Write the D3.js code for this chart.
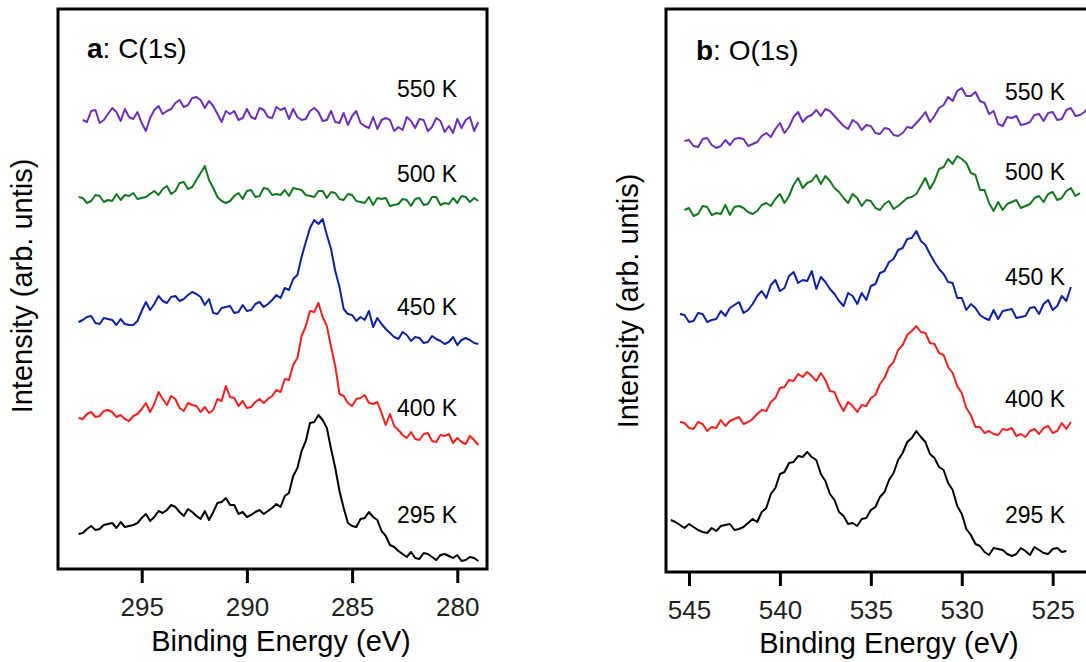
<!DOCTYPE html>
<html>
<head>
<meta charset="utf-8">
<script src="https://cdn.jsdelivr.net/npm/d3@7"></script>
<style>
  body { margin: 0; background: #fff; }
  svg { display: block; font-family: 'Liberation Sans', Arial, sans-serif; }
  .frame { fill: none; stroke: #000; stroke-width: 3; }
  .tick line { stroke: #000; stroke-width: 3; }
  .tick text { font-size: 26px; fill: #222; font-family: 'Liberation Sans', Arial, sans-serif; }
  .line-path { fill: none; stroke-width: 2; stroke-linejoin: round; }
  .label { font-size: 29px; fill: #000; }
  .temp { font-size: 23px; fill: #000; }
  .title { font-size: 28px; fill: #000; }
</style>
</head>
<body>
<script>
// series names / colours (top to bottom)
const temps = ['550 K', '500 K', '450 K', '400 K', '295 K']
const colors = ['#6b2fbd', '#12781f', '#0c22a6', '#f5201c', '#000000']

// ---- a: C(1s), sampled every 0.2 eV starting from the first energy
const cStep = 0.2
const cStarts = [297.8, 298.0, 298.0, 298.0, 298.0]
const cTicks = [295, 290, 285, 280]

const c550 = [
  449,447,458,459,446,449,455,461,457,448,
  460,452,450,457,446,438,451,459,463,455,
  458,460,466,469,462,464,471,472,469,461,
  468,463,455,447,458,455,458,449,451,460,
  452,450,461,459,452,451,462,459,461,450,
  460,452,449,450,458,461,457,448,449,458,
  447,446,456,444,453,458,446,443,441,452,
  440,449,451,449,438,442,439,452,448,441,
  450,449,438,442,451,448,437,443,436,450,
  441,449,452,438,447
]
const c500 = [
  372,371,366,368,374,373,367,369,368,375,
  369,374,373,376,370,371,372,375,378,374,
  380,383,375,378,386,387,380,382,389,396,
  403,389,381,372,368,366,368,373,376,370,
  378,379,372,373,381,380,374,375,374,379,
  373,381,380,379,374,373,372,378,378,371,
  377,376,370,369,375,374,368,367,366,372,
  364,371,370,371,363,364,365,370,369,363,
  370,371,364,365,372,372,364,366,365,371,
  366,373,372,367,371,368
]
const c450 = [
  247,249,252,253,246,245,251,250,249,244,
  250,245,244,244,248,258,267,259,265,273,
  268,266,272,273,268,270,274,277,275,272,
  264,270,256,255,261,262,263,256,257,264,
  258,259,265,267,262,265,269,274,271,281,
  279,290,294,312,327,341,349,345,350,334,
  320,298,282,260,255,254,248,252,249,258,
  242,251,245,240,236,232,230,237,234,228,
  232,231,226,227,233,230,228,225,227,232,
  224,229,231,229,226,225
]
const c400 = [
  151,150,155,157,152,153,158,159,157,152,
  154,150,148,153,155,160,166,157,165,177,
  170,164,173,170,161,158,166,164,163,157,
  162,156,159,170,168,183,172,171,163,168,
  161,162,167,170,166,170,173,179,177,190,
  189,204,211,233,243,258,257,266,252,243,
  222,203,175,173,166,163,170,171,174,166,
  165,167,156,144,155,143,139,134,131,137,
  130,129,135,136,128,127,134,133,135,126,
  131,127,125,133,129,124
]
const c295 = [
  35,36,40,43,39,40,44,45,46,41,
  47,42,43,44,46,51,55,48,52,58,
  56,59,64,62,57,53,60,57,53,50,
  58,49,57,66,67,71,64,64,55,57,
  52,54,57,59,55,58,61,65,62,73,
  76,93,101,118,128,146,147,154,149,141,
  120,101,78,61,46,43,42,50,51,57,
  52,49,38,33,24,22,18,15,12,17,
  11,10,16,15,12,9,14,15,13,11,
  14,8,9,12,11,8
]

// ---- b: O(1s), sampled every 0.25 eV starting from the first energy
const oStep = 0.25
const oStarts = [545.25, 545.25, 545.5, 545.5, 546.0]
const oTicks = [545, 540, 535, 530, 525]

const o550 = [
  431,432,426,425,433,434,427,424,426,432,
  427,433,434,433,426,428,430,436,439,435,
  443,449,439,445,455,460,450,455,457,462,
  456,463,461,456,451,446,443,452,449,442,
  447,446,439,438,444,443,437,436,439,445,
  444,449,454,460,450,456,464,467,475,471,
  481,484,476,476,480,471,469,458,461,448,
  446,455,454,456,447,448,450,457,458,451,
  459,460,452,453,462,464,456,457,460,466,
  462,468,470,464
]
const o500 = [
  362,364,356,358,366,365,357,359,358,367,
  357,365,366,364,360,358,361,367,369,366,
  373,378,369,376,387,394,384,389,391,397,
  388,396,391,384,380,374,369,378,374,366,
  372,371,364,362,368,371,363,366,370,374,
  375,378,386,394,383,391,403,405,413,408,
  416,413,409,399,397,382,382,369,361,370,
  362,368,370,372,364,366,368,374,376,370,
  378,380,372,374,381,384,376,379
]
const o450 = [
  258,257,250,251,259,258,250,252,253,261,
  256,264,267,270,259,262,268,276,281,274,
  287,292,281,284,296,300,289,292,291,301,
  283,295,290,283,278,271,266,279,276,268,
  279,272,286,288,299,301,310,313,322,324,
  333,334,341,331,327,318,310,303,298,290,
  289,274,274,262,268,264,257,254,252,262,
  253,261,262,263,254,255,256,264,265,258,
  268,272,262,266,276,271,285
]
const o400 = [
  150,149,144,143,150,148,141,145,144,152,
  146,151,153,155,148,150,153,158,162,161,
  170,174,184,185,192,191,198,195,200,196,
  191,199,192,181,180,169,161,170,166,160,
  167,166,174,177,188,194,205,210,222,227,
  237,241,246,240,239,229,228,219,217,205,
  199,186,179,164,157,145,145,139,141,138,
  137,143,142,144,136,138,135,141,143,138,
  144,146,139,141,149,143,150
]
const o295 = [
  52,50,47,44,48,45,42,40,39,44,
  41,46,47,48,42,43,45,49,53,50,
  60,64,78,84,98,100,109,110,116,115,
  120,115,112,98,91,78,72,60,56,48,
  49,46,53,54,62,65,75,80,92,99,
  112,119,130,134,141,135,130,118,114,105,
  102,89,82,66,58,43,37,28,26,20,
  17,24,23,22,18,16,18,24,21,17,
  25,22,19,18,23,24,20,21
]

// svg dimension
const width = 1086
const height = 662

const svg = d3.select('body')
  .append('svg')
  .attr('width', width)
  .attr('height', height)

// panel layouts
const panels = [
  {
    letter: 'a', element: 'C(1s)', series: [c550, c500, c450, c400, c295],
    starts: cStarts, step: cStep, ticks: cTicks,
    frame: { left: 58, right: 487, top: 9, bottom: 569 },
    xDomain: [295, 280], xRange: [141.7, 457.3], yMax: 560,
    titlePos: [87, 58], tempX: 397, tempY: [97, 182, 315, 416, 523],
    yLabelPos: [32, 286], xLabelPos: [281, 651]
  },
  {
    letter: 'b', element: 'O(1s)', series: [o550, o500, o450, o400, o295],
    starts: oStarts, step: oStep, ticks: oTicks,
    frame: { left: 666, right: 1100, top: 9, bottom: 572 },
    xDomain: [545, 525], xRange: [689, 1052.7], yMax: 563,
    titlePos: [696, 60], tempX: 1005, tempY: [100, 180, 285, 407, 523],
    yLabelPos: [638, 301], xLabelPos: [889, 653]
  }
]

panels.forEach(p => {
  const g = svg.append('g')

  const xScale = d3.scaleLinear().domain(p.xDomain).range(p.xRange)
  const yScale = d3.scaleLinear().domain([0, p.yMax]).range([p.frame.bottom, p.frame.top])

  // frame
  g.append('rect')
    .attr('class', 'frame')
    .attr('x', p.frame.left)
    .attr('y', p.frame.top)
    .attr('width', p.frame.right - p.frame.left)
    .attr('height', p.frame.bottom - p.frame.top)

  // x-axis (ticks outside frame)
  const xAxis = d3.axisBottom(xScale)
    .tickValues(p.ticks)
    .tickSize(14)
    .tickPadding(15)
    .tickFormat(d3.format('d'))

  const axisG = g.append('g')
    .attr('transform', `translate(0, ${p.frame.bottom})`)
    .call(xAxis)
  axisG.select('.domain').remove()
  axisG.attr('font-size', null).attr('font-family', null)

  // spectra
  const line = d3.line()
    .x(d => xScale(d[0]))
    .y(d => yScale(d[1]))

  p.series.forEach((values, i) => {
    const pts = values.map((v, k) => [p.starts[i] - k * p.step, v])
    g.append('path')
      .attr('class', 'line-path')
      .datum(pts)
      .attr('stroke', colors[i])
      .attr('d', line)
  })

  // temperature labels
  g.selectAll('.temp')
    .data(temps)
    .enter()
    .append('text')
    .attr('class', 'temp')
    .attr('x', p.tempX)
    .attr('y', (d, i) => p.tempY[i])
    .text(d => d)

  // panel title
  const title = g.append('text')
    .attr('class', 'title')
    .attr('x', p.titlePos[0])
    .attr('y', p.titlePos[1])
  title.append('tspan').attr('font-weight', 'bold').text(p.letter)
  title.append('tspan').text(': ' + p.element)

  // x-axis label
  g.append('text')
    .attr('class', 'label')
    .attr('text-anchor', 'middle')
    .attr('x', p.xLabelPos[0])
    .attr('y', p.xLabelPos[1])
    .text('Binding Energy (eV)')

  // y-axis label
  g.append('text')
    .attr('class', 'label')
    .attr('text-anchor', 'middle')
    .attr('transform', `translate(${p.yLabelPos[0]}, ${p.yLabelPos[1]}) rotate(-90)`)
    .text('Intensity (arb. untis)')
})
</script>
</body>
</html>
